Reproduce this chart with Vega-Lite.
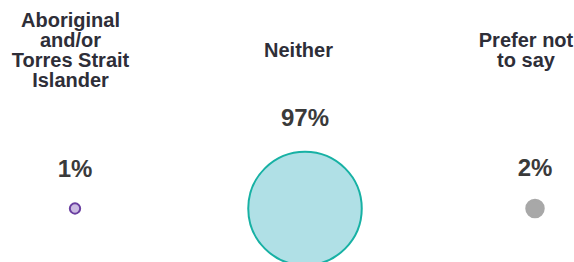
{
  "$schema": "https://vega.github.io/schema/vega-lite/v6.json",
  "autosize": {"type": "none"},
  "padding": {"left": 75, "top": 0, "right": 39, "bottom": 0},
  "width": 460,
  "height": 262,
  "background": "white",
  "config": {"view": {"stroke": null}, "font": "Liberation Sans"},
  "data": {
    "values": [
      {"category": "Aboriginal and/or Torres Strait Islander", "share": 0.008},
      {"category": "Neither", "share": 0.969},
      {"category": "Prefer not to say", "share": 0.023}
    ]
  },
  "encoding": {
    "x": {
      "field": "category",
      "type": "nominal",
      "scale": {"type": "point", "padding": 0, "domain": ["Aboriginal and/or Torres Strait Islander", "Neither", "Prefer not to say"]},
      "axis": {
        "orient": "top",
        "offset": -50,
        "title": null,
        "domain": false,
        "ticks": false,
        "tickSize": 0,
        "grid": false,
        "labelPadding": {
          "condition": [
            {"test": "datum.value == 'Aboriginal and/or Torres Strait Islander'", "value": 30},
            {"test": "datum.value == 'Prefer not to say'", "value": 10}
          ],
          "value": 0
        },
        "labelOffset": {
          "condition": [
            {"test": "datum.value == 'Aboriginal and/or Torres Strait Islander'", "value": -5},
            {"test": "datum.value == 'Prefer not to say'", "value": -9.5}
          ],
          "value": -7
        },
        "labelAngle": 0,
        "labelBaseline": "middle",
        "labelAlign": "center",
        "labelLineHeight": 20,
        "labelFontSize": 20,
        "labelFontWeight": "bold",
        "labelColor": "#2e2e38",
        "labelFont": "Liberation Sans",
        "labelLimit": 0,
        "labelOverlap": false,
        "labelBound": false,
        "labelFlush": false,
        "labelExpr": "datum.label == 'Aboriginal and/or Torres Strait Islander' ? ['Aboriginal','and/or','Torres Strait','Islander'] : datum.label == 'Prefer not to say' ? ['Prefer not','to say'] : datum.label"
      }
    }
  },
  "layer": [
    {
      "mark": {"type": "point", "shape": "circle", "filled": true, "opacity": 1, "strokeWidth": 2},
      "encoding": {
        "y": {"datum": 0, "type": "quantitative", "scale": {"domain": [0, 1], "range": [208.5, 154.9]}, "axis": null},
        "size": {"field": "share", "type": "quantitative", "scale": {"type": "linear", "domain": [0, 1], "range": [0, 13294]}, "legend": null},
        "fill": {"field": "category", "type": "nominal", "scale": {"domain": ["Aboriginal and/or Torres Strait Islander", "Neither", "Prefer not to say"], "range": ["#cbbbe2", "#b0e0e6", "#a8a8a8"]}, "legend": null},
        "stroke": {"field": "category", "type": "nominal", "scale": {"domain": ["Aboriginal and/or Torres Strait Islander", "Neither", "Prefer not to say"], "range": ["#6a3fa0", "#17b1a4", "#a8a8a8"]}, "legend": null}
      }
    },
    {
      "mark": {"type": "text", "dy": -38, "fontSize": 24, "fontWeight": "bold", "color": "#3a3a3a", "baseline": "middle", "align": "center"},
      "encoding": {
        "y": {"field": "share", "type": "quantitative", "axis": null},
        "text": {"field": "share", "type": "quantitative", "format": ".0%"}
      }
    }
  ]
}
